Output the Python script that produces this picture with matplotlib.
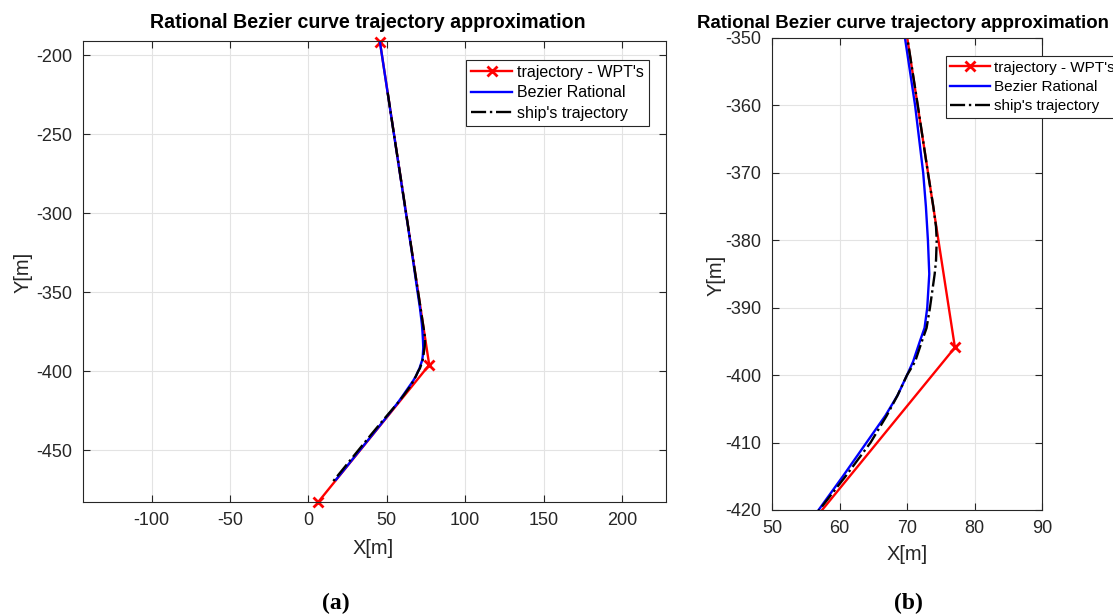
import matplotlib
matplotlib.use('Agg')
import matplotlib.pyplot as plt

plt.rcParams['font.family'] = ['Liberation Sans', 'DejaVu Sans']
plt.rcParams['axes.unicode_minus'] = False

# waypoints (trajectory - WPT's)
wpt_x = [6.4, 77.1, 45.7]
wpt_y = [-482.5, -395.9, -191.8]

# rational Bezier curve
bez_x = [45.7, 50.0, 54.6, 59.2, 63.8, 66.8, 69.7, 71.2, 72.4, 72.8, 73.1, 73.3,
         73.0, 72.6, 71.9, 70.9, 70.0, 68.6, 66.8, 64.0, 60.5, 56.9, 49.0, 40.9,
         32.7, 24.6, 17.6]
bez_y = [-191.8, -220, -250, -280, -310, -330, -350, -360, -370, -375, -380, -385,
         -390, -393, -395, -398, -400, -403, -406, -410, -415, -420, -430, -440,
         -450, -460, -468.5]

# ship's trajectory
ship_x = [50.6, 54.6, 59.3, 63.9, 68.5, 71.6, 73.1, 73.9, 74.3, 74.4, 74.3, 74.1,
          73.4, 72.9, 72.2, 71.2, 70.0, 68.6, 67.0, 64.6, 60.9, 57.0, 48.4, 40.0,
          31.8, 23.6, 15.4]
ship_y = [-223.6, -250, -280, -310, -340, -360, -370, -375, -378, -380, -383, -385,
          -390, -393, -395, -398, -400, -403, -406, -410, -415, -420, -430, -440,
          -450, -460, -470]

title = 'Rational Bezier curve trajectory approximation'
tick_col = '#262626'

fig = plt.figure(figsize=(11.13, 6.15), dpi=100)
ax1 = fig.add_axes([83 / 1113, 1 - 502 / 615, 583 / 1113, 461 / 615])
ax2 = fig.add_axes([772 / 1113, 1 - 510 / 615, 270 / 1113, 472 / 615])


def draw(ax, leg_anchor, leg_size, clip):
    ax.plot(wpt_x, wpt_y, '-x', color='red', lw=1.7, ms=7, mew=2,
            label="trajectory - WPT's", clip_on=clip)
    ax.plot(bez_x, bez_y, '-', color='blue', lw=1.7, label='Bezier Rational')
    ax.plot(ship_x, ship_y, '-.', color='black', lw=1.7, label="ship's trajectory")
    ax.grid(True, color='#e3e3e3', lw=0.8)
    ax.set_axisbelow(True)
    ax.tick_params(direction='in', length=5, top=True, right=True,
                   labelsize=13, colors=tick_col, width=0.8)
    ax.tick_params(axis='x', pad=7)
    ax.tick_params(axis='y', pad=8)
    for s in ax.spines.values():
        s.set_color(tick_col)
        s.set_linewidth(0.8)
    leg = ax.legend(loc='upper left', bbox_to_anchor=leg_anchor, borderaxespad=0,
                    fontsize=leg_size, frameon=True, fancybox=False, framealpha=1,
                    edgecolor='#262626', handlelength=2.6, handletextpad=0.3,
                    labelspacing=0.35, borderpad=0.3)
    leg.get_frame().set_linewidth(0.8)
    leg.set_clip_on(False)


draw(ax1, (0.657, 0.959), 11.5, False)
ax1.set_xlim(-143.7, 228.1)
ax1.set_ylim(-482.6, -191.0)
ax1.set_xticks([-100, -50, 0, 50, 100, 150, 200])
ax1.set_yticks([-450, -400, -350, -300, -250, -200])

draw(ax2, (0.643, 0.962), 11, True)
ax2.set_xlim(50, 90)
ax2.set_ylim(-420, -350)
ax2.set_xticks([50, 60, 70, 80, 90])
ax2.set_yticks([-420, -410, -400, -390, -380, -370, -360, -350])

fig.text(368 / 1113, 1 - 23 / 615, title, ha='center', va='center',
         fontsize=14.1, fontweight='bold')
fig.text(903 / 1113, 1 - 23 / 615, title, ha='center', va='center',
         fontsize=13.4, fontweight='bold')

fig.text(373 / 1113, 1 - 549 / 615, 'X[m]', ha='center', va='center', fontsize=14.4, color=tick_col)
fig.text(23 / 1113, 1 - 272 / 615, 'Y[m]', ha='center', va='center', fontsize=14.4,
         rotation=90, color=tick_col)
fig.text(907 / 1113, 1 - 555 / 615, 'X[m]', ha='center', va='center', fontsize=14.4, color=tick_col)
fig.text(716 / 1113, 1 - 275 / 615, 'Y[m]', ha='center', va='center', fontsize=14.4,
         rotation=90, color=tick_col)

fig.text(336 / 1113, 1 - 603 / 615, '(a)', ha='center', va='center', fontsize=17,
         family=['Liberation Serif', 'DejaVu Serif'], fontweight='bold')
fig.text(908 / 1113, 1 - 603 / 615, '(b)', ha='center', va='center', fontsize=17,
         family=['Liberation Serif', 'DejaVu Serif'], fontweight='bold')

fig.savefig('out.png', dpi=100)
